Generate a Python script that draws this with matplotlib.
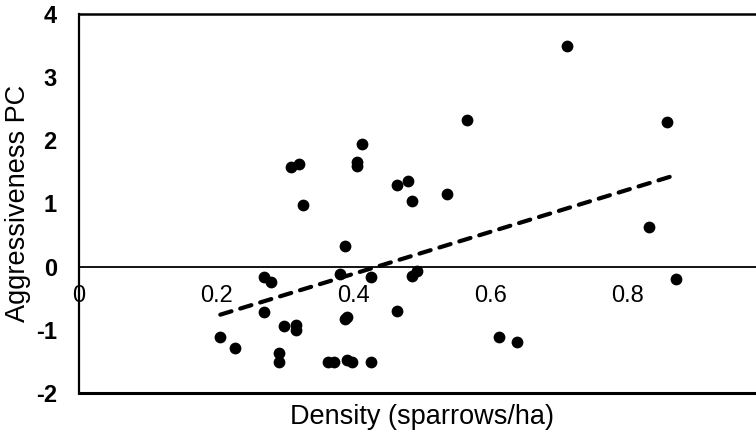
import matplotlib
matplotlib.use("Agg")
import matplotlib.pyplot as plt
import numpy as np

plt.rcParams['font.family'] = ['Liberation Sans', 'DejaVu Sans']

density = [0.206, 0.228, 0.270, 0.280, 0.270, 0.291, 0.291, 0.299, 0.317, 0.317,
           0.309, 0.320, 0.327, 0.363, 0.371, 0.390, 0.398, 0.425, 0.388, 0.380,
           0.388, 0.391, 0.405, 0.405, 0.412, 0.426, 0.463, 0.463, 0.480, 0.486,
           0.486, 0.493, 0.536, 0.565, 0.612, 0.638, 0.712, 0.831, 0.857, 0.870]
aggressiveness = [-1.11, -1.28, -0.17, -0.25, -0.72, -1.36, -1.51, -0.94, -0.93, -1.01,
                  1.58, 1.62, 0.98, -1.51, -1.51, -1.48, -1.51, -1.51, 0.33, -0.11,
                  -0.83, -0.79, 1.59, 1.65, 1.94, -0.16, 1.29, -0.70, 1.36, 1.04,
                  -0.15, -0.07, 1.15, 2.32, -1.12, -1.19, 3.49, 0.63, 2.29, -0.19]
trend_slope = 3.33
trend_intercept = -1.446

xticks = [0, 0.2, 0.4, 0.6, 0.8]
xtick_labels = ["0", "0.2", "0.4", "0.6", "0.8"]
yticks = [-2, -1, 0, 1, 2, 3, 4]
ytick_labels = ["-2", "-1", "0", "1", "2", "3", "4"]

fig = plt.figure(figsize=(7.56, 4.30), dpi=100)
W, H = 756, 430
left, right, top, bottom = 79, 765, 14, 393
ax = fig.add_axes([left / W, 1 - bottom / H, (right - left) / W, (bottom - top) / H])

ax.scatter(density, aggressiveness, s=72, color='black', zorder=3, linewidths=0)

tx = np.array([min(density), max(density)])
ax.plot(tx, trend_slope * tx + trend_intercept, color='black', lw=3,
        linestyle=(0, (2.8, 2.2)), dash_capstyle='round', zorder=2)

ax.set_xlim(0, 1.0)
ax.set_ylim(-2, 4)

ax.spines['bottom'].set_position(('data', 0))
ax.spines['bottom'].set_linewidth(1.3)
ax.spines['left'].set_linewidth(1.6)
ax.spines['top'].set_linewidth(1.8)
ax.spines['right'].set_visible(False)
ax.axhline(-2, color='black', lw=2.2, clip_on=False, zorder=4)

ax.set_xticks(xticks)
ax.set_xticklabels(xtick_labels)
ax.set_yticks(yticks)
ax.set_yticklabels(ytick_labels, fontweight='bold')
ax.tick_params(axis='x', length=0, pad=13, labelsize=17)
ax.tick_params(axis='y', length=0, pad=16, labelsize=17)

ax.set_xlabel("Density (sparrows/ha)", fontsize=19.5)
ax.xaxis.set_label_coords(0.5, -0.03)
ax.set_ylabel("Aggressiveness PC", fontsize=19.5)
ax.yaxis.set_label_coords(-0.07, 0.5)

fig.savefig("out.png", dpi=100)
